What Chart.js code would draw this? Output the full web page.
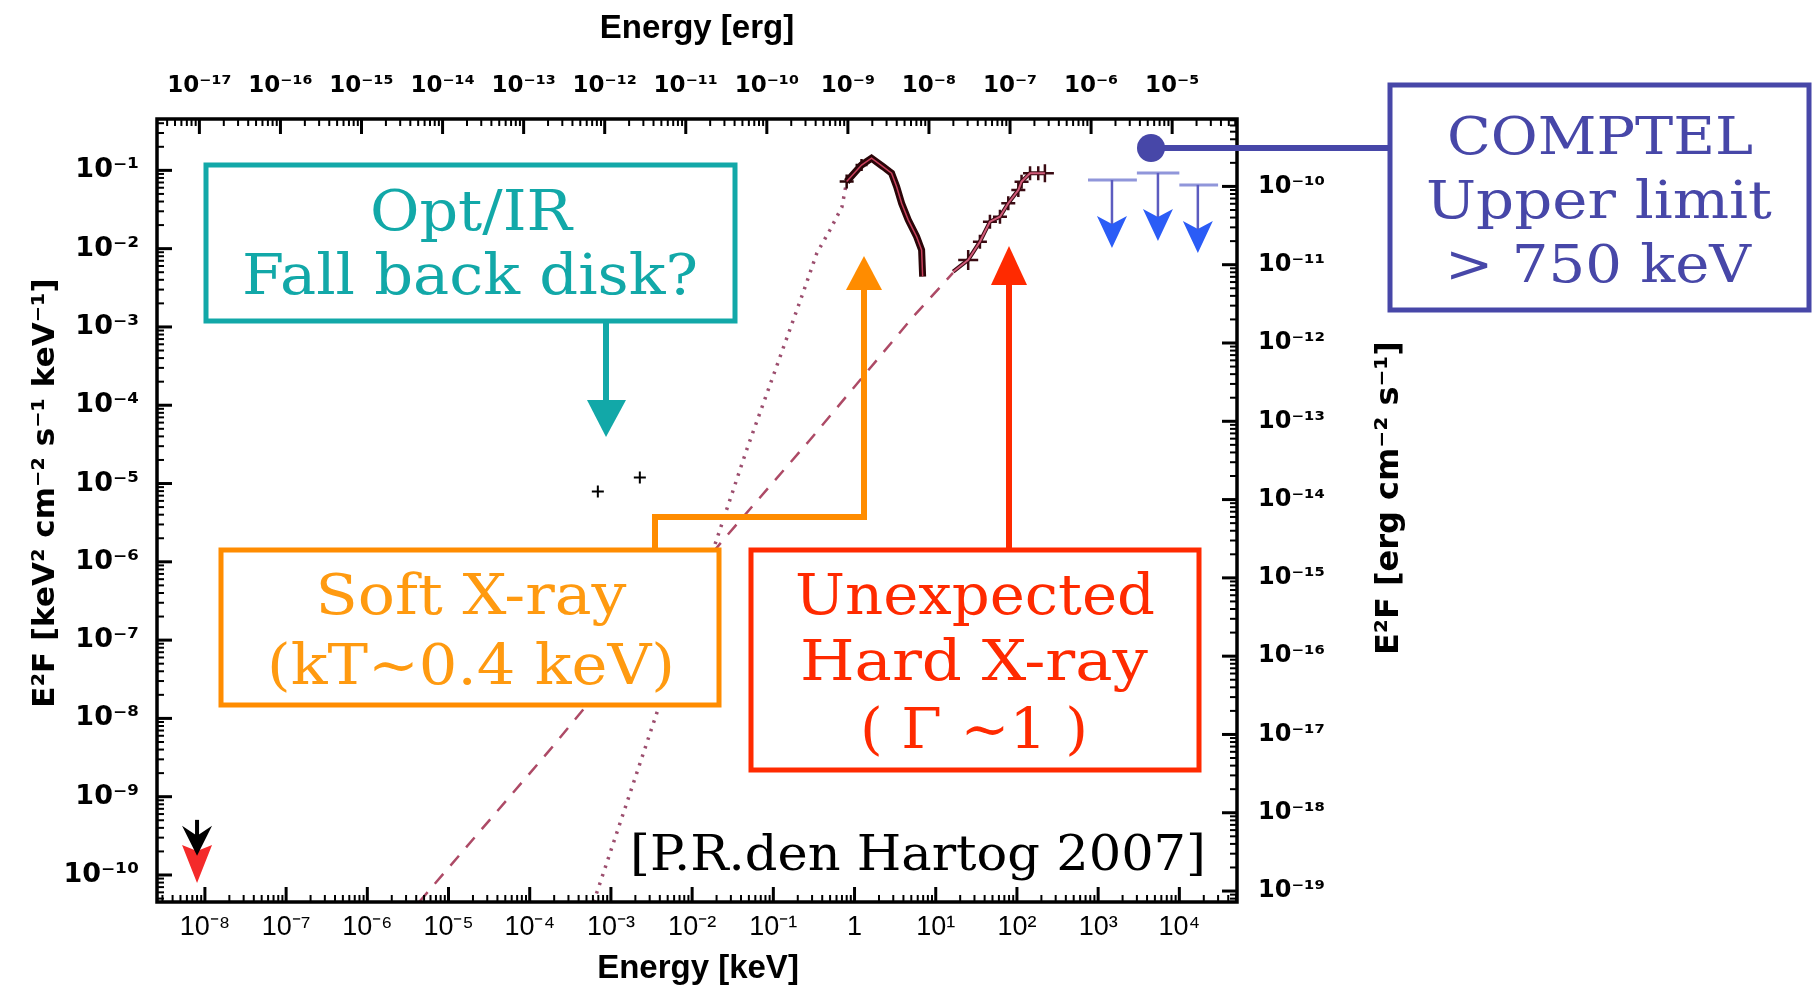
<!DOCTYPE html>
<html>
<head>
<meta charset="utf-8">
<script src="https://cdn.jsdelivr.net/npm/chart.js@4.4.0/dist/chart.umd.min.js"></script>
<style>
  html, body { margin: 0; padding: 0; background: #fff; }
  #wrap { position: relative; width: 1818px; height: 990px; }
  #chart, #notes { position: absolute; left: 0; top: 0; }
  #notes text { font-family: 'DejaVu Serif', serif; }
</style>
</head>
<body>
<div id="wrap">
  <canvas id="chart" width="1818" height="990"></canvas>
  <svg id="notes" width="1818" height="990">
    <!-- Opt/IR -->
    <rect x="206" y="165" width="529" height="156" fill="#fff" stroke="#12a8a8" stroke-width="5"/>
    <text x="471" y="230" fill="#12a8a8" font-size="56" text-anchor="middle" textLength="202" lengthAdjust="spacingAndGlyphs">Opt/IR</text>
    <text x="470" y="294" fill="#12a8a8" font-size="56" text-anchor="middle" textLength="456" lengthAdjust="spacingAndGlyphs">Fall back disk?</text>
    <line x1="606" y1="323" x2="606" y2="404" stroke="#12a8a8" stroke-width="6"/>
    <polygon points="587,400 626,400 606,437" fill="#12a8a8"/>

    <!-- soft X-ray -->
    <polyline points="655,550 655,517 864,517 864,284" fill="none" stroke="#ff8c00" stroke-width="6"/>
    <polygon points="846,290 882,290 864,256" fill="#ff8c00"/>
    <rect x="221" y="550" width="498" height="155" fill="#fff" stroke="#ff8c00" stroke-width="5"/>
    <text x="471" y="614" fill="#ff9a10" font-size="56" text-anchor="middle" textLength="311" lengthAdjust="spacingAndGlyphs">Soft X-ray</text>
    <text x="471" y="684" fill="#ff9a10" font-size="56" text-anchor="middle" textLength="408" lengthAdjust="spacingAndGlyphs">(kT~0.4 keV)</text>

    <!-- hard X-ray -->
    <line x1="1009" y1="550" x2="1009" y2="280" stroke="#ff2a00" stroke-width="6"/>
    <polygon points="991,285 1027,285 1009,246" fill="#ff2a00"/>
    <rect x="751" y="550" width="448" height="220" fill="#fff" stroke="#ff2a00" stroke-width="5"/>
    <text x="975" y="614" fill="#ff2a00" font-size="56" text-anchor="middle" textLength="360" lengthAdjust="spacingAndGlyphs">Unexpected</text>
    <text x="974" y="680" fill="#ff2a00" font-size="56" text-anchor="middle" textLength="348" lengthAdjust="spacingAndGlyphs">Hard X-ray</text>
    <text x="974" y="748" fill="#ff2a00" font-size="56" text-anchor="middle" textLength="228" lengthAdjust="spacingAndGlyphs">( Γ ~1 )</text>

    <!-- COMPTEL -->
    <line x1="1151" y1="148" x2="1392" y2="148" stroke="#4747a8" stroke-width="6"/>
    <circle cx="1151" cy="148" r="14" fill="#4747a8"/>
    <rect x="1390" y="85" width="419" height="225" fill="#fff" stroke="#4747a8" stroke-width="5"/>
    <text x="1600" y="154" fill="#4747a8" font-size="52" text-anchor="middle" textLength="306" lengthAdjust="spacingAndGlyphs">COMPTEL</text>
    <text x="1599" y="218" fill="#4747a8" font-size="52" text-anchor="middle" textLength="346" lengthAdjust="spacingAndGlyphs">Upper limit</text>
    <text x="1598" y="282" fill="#4747a8" font-size="52" text-anchor="middle" textLength="306" lengthAdjust="spacingAndGlyphs">&gt; 750 keV</text>

    <text x="918" y="870" fill="#000" font-size="48" text-anchor="middle" textLength="576" lengthAdjust="spacingAndGlyphs">[P.R.den Hartog 2007]</text>
  </svg>
</div>
<script>
// axis ranges
const xMin = Math.pow(10, -8.59), xMax = Math.pow(10, 4.71);       // keV
const ergMin = Math.pow(10, -17.505), ergMax = Math.pow(10, -4.2); // erg
const yMin = Math.pow(10, -10.345), yMax = Math.pow(10, -0.344);   // keV2 cm-2 s-1 keV-1
const y2Min = Math.pow(10, -19.14), y2Max = Math.pow(10, -9.139);  // erg cm-2 s-1

// optical / IR points
const optE = [6.9e-4, 2.27e-3];
const optF = [7.9e-6, 1.19e-5];

// soft X-ray spectrum
const softE = [0.80, 1.22, 1.62, 2.26, 2.86, 3.30, 3.80, 4.58, 5.82, 6.70, 6.90];
const softF = [0.0718, 0.117, 0.143, 0.111, 0.092, 0.0619, 0.038, 0.0233, 0.0142, 0.0096, 0.0044];

// hard X-ray spectrum
const hardE = [16.4, 25.1, 35.0, 46.5, 61.8, 78.2, 104, 114, 145, 183, 221];
const hardF = [0.00508, 0.00718, 0.01228, 0.0221, 0.0256, 0.038, 0.056, 0.0717, 0.0918, 0.0918, 0.0918];

// blackbody model (dotted)
const bbE = [6.12e-4, 7.33e-4, 3.66e-3, 0.0200, 0.0469, 0.232, 0.344, 0.498, 0.70, 0.80];
const bbF = [4.52e-11, 7.85e-11, 1.16e-8, 1.91e-6, 2.69e-5, 2.72e-3, 8.8e-3, 0.0173, 0.0341, 0.0718];

// power-law model (dashed)
const plE = [4.35e-6, 1.77e-4, 0.0242, 0.282, 5.24, 16.3];
const plF = [4.52e-11, 3.96e-9, 1.91e-6, 3.6e-5, 1.34e-3, 4.9e-3];

// COMPTEL upper limits
const ulLo = [750, 3000, 10000];
const ulHi = [3000, 10000, 30000];
const ulE = [1480, 5450, 16900];
const ulF = [0.0753, 0.0927, 0.0652];

// radio upper limits (far left)
const radioE = [8e-9, 8e-9];
const radioF = [2.42e-10, 5.06e-10];

const pts = (xs, ys) => xs.map((x, i) => ({x: x, y: ys[i]}));

const sup = {'-': '⁻', '0': '⁰', '1': '¹', '2': '²', '3': '³', '4': '⁴', '5': '⁵', '6': '⁶', '7': '⁷', '8': '⁸', '9': '⁹'};
function powLabel(v) {
  const l = Math.log10(v), e = Math.round(l);
  if (Math.abs(l - e) > 1e-6) return '';
  if (e === 0) return '1';
  return '10' + String(e).split('').map(c => sup[c]).join('');
}

const sans = "'Liberation Sans', Arial, sans-serif";
const heavy = "'DejaVu Sans', sans-serif";

function logTicks(ctx, scale, edge, dir, horiz) {
  const lo = Math.floor(Math.log10(scale.min)), hi = Math.ceil(Math.log10(scale.max));
  for (let e = lo; e <= hi; e++) {
    for (let m = 1; m < 10; m++) {
      const v = m * Math.pow(10, e);
      if (v < scale.min || v > scale.max) continue;
      const p = scale.getPixelForValue(v);
      const len = m === 1 ? 15 : 7;
      ctx.lineWidth = m === 1 ? 3 : 2;
      ctx.beginPath();
      if (horiz) { ctx.moveTo(p, edge); ctx.lineTo(p, edge + dir * len); }
      else { ctx.moveTo(edge, p); ctx.lineTo(edge + dir * len, p); }
      ctx.stroke();
    }
  }
}

function arrowHead(ctx, cx, top, w, h, notch, color) {
  ctx.fillStyle = color;
  ctx.beginPath();
  ctx.moveTo(cx - w / 2, top);
  ctx.lineTo(cx, top + notch);
  ctx.lineTo(cx + w / 2, top);
  ctx.lineTo(cx, top + h);
  ctx.closePath();
  ctx.fill();
}

function title(ctx, text, x, y, rot, font) {
  ctx.save();
  ctx.translate(x, y);
  ctx.rotate(rot);
  ctx.font = font;
  ctx.fillStyle = '#000';
  ctx.textAlign = 'center';
  ctx.textBaseline = 'middle';
  ctx.fillText(text, 0, 0);
  ctx.restore();
}

const framePlugin = {
  id: 'frame',
  afterDatasetsDraw(chart) {
    const {ctx, chartArea: a, scales} = chart;
    const x = scales.x, y = scales.y;
    ctx.save();
    // COMPTEL upper limits
    ulE.forEach((e, i) => {
      const py = y.getPixelForValue(ulF[i]);
      const cx = x.getPixelForValue(e);
      ctx.strokeStyle = '#9096da';
      ctx.lineWidth = 3;
      ctx.beginPath();
      ctx.moveTo(x.getPixelForValue(ulLo[i]), py);
      ctx.lineTo(x.getPixelForValue(ulHi[i]), py);
      ctx.stroke();
      ctx.strokeStyle = '#5c5cc0';
      ctx.lineWidth = 2.5;
      ctx.beginPath();
      ctx.moveTo(cx, py);
      ctx.lineTo(cx, py + 50);
      ctx.stroke();
      arrowHead(ctx, cx, py + 36, 30, 32, 8, '#2b5cf6');
    });
    // radio limits: red below, black above
    const rx = x.getPixelForValue(radioE[0]);
    const rRed = y.getPixelForValue(radioF[0]);
    arrowHead(ctx, rx, rRed, 30, 38, 6, '#f42a2a');
    const rBlk = y.getPixelForValue(radioF[1]);
    ctx.strokeStyle = '#000';
    ctx.lineWidth = 4;
    ctx.beginPath();
    ctx.moveTo(rx, rBlk);
    ctx.lineTo(rx, rBlk + 24);
    ctx.stroke();
    arrowHead(ctx, rx, rBlk + 6, 30, 30, 10, '#000');

    // frame and inward ticks
    ctx.strokeStyle = '#000';
    logTicks(ctx, scales.x, a.bottom, -1, true);
    logTicks(ctx, scales.x2, a.top, 1, true);
    logTicks(ctx, scales.y, a.left, 1, false);
    logTicks(ctx, scales.y2, a.right, -1, false);
    ctx.lineWidth = 3.5;
    ctx.strokeRect(a.left, a.top, a.width, a.height);
    ctx.restore();

    // axis titles
    title(ctx, 'Energy [keV]', 698, 969, 0, 'bold 33px ' + sans);
    title(ctx, 'Energy [erg]', 697, 29, 0, 'bold 33px ' + sans);
    title(ctx, 'E²F [keV² cm⁻² s⁻¹ keV⁻¹]', 46, 493, -Math.PI / 2, 'bold 31px ' + heavy);
    title(ctx, 'E²F [erg cm⁻² s⁻¹]', 1390, 498, -Math.PI / 2, 'bold 32px ' + heavy);
  }
};

const tickOpts = (font, pad) => ({
  color: '#000',
  font: font,
  padding: pad,
  autoSkip: false,
  maxRotation: 0,
  minRotation: 0,
  callback: v => powLabel(v)
});
const noGrid = {display: false, drawTicks: false};

new Chart(document.getElementById('chart'), {
  type: 'scatter',
  data: {
    datasets: [
      {
        label: 'Opt/IR',
        data: pts(optE, optF),
        pointStyle: 'cross',
        pointRadius: 6,
        borderColor: '#000',
        borderWidth: 2
      },
      {
        label: 'Soft X-ray model',
        data: pts(softE, softF),
        showLine: true,
        pointRadius: 0,
        borderColor: '#c8405c',
        borderWidth: 1.5
      },
      {
        label: 'Hard X-ray model',
        data: pts(hardE, hardF),
        showLine: true,
        pointRadius: 0,
        borderColor: '#d05a78',
        borderWidth: 2
      },
      {
        label: 'Soft X-ray',
        data: pts(softE, softF),
        showLine: true,
        pointStyle: 'cross',
        pointRadius: [7, 6, 0, 0, 0, 0, 0, 0, 0, 0, 0],
        pointBorderWidth: 2.5,
        borderColor: '#2a0508',
        borderWidth: 7
      },
      {
        label: 'Hard X-ray',
        data: pts(hardE, hardF),
        showLine: true,
        pointStyle: 'cross',
        pointRadius: [0, 10, 7, 7, 7, 7, 7, 7, 7, 7, 9],
        pointBorderWidth: 2.5,
        borderColor: '#3a0a12',
        borderWidth: 4
      },
      {
        label: 'Blackbody',
        data: pts(bbE, bbF),
        showLine: true,
        pointRadius: 0,
        borderColor: '#9c4e6e',
        borderWidth: 3.5,
        borderDash: [2.5, 6.5]
      },
      {
        label: 'Power law',
        data: pts(plE, plF),
        showLine: true,
        pointRadius: 0,
        borderColor: '#ad4a66',
        borderWidth: 2.5,
        borderDash: [13, 11]
      }
    ]
  },
  options: {
    responsive: false,
    animation: false,
    layout: {padding: 0},
    plugins: {legend: {display: false}, tooltip: {enabled: false}},
    scales: {
      x: {
        type: 'logarithmic', position: 'bottom', min: xMin, max: xMax,
        grid: noGrid, border: {display: false},
        ticks: tickOpts({family: sans, size: 27}, 9),
        afterFit: s => { s.height = 88; }
      },
      x2: {
        type: 'logarithmic', position: 'top', min: ergMin, max: ergMax,
        grid: noGrid, border: {display: false},
        ticks: tickOpts({family: heavy, size: 23, weight: 'bold'}, 19),
        afterFit: s => { s.height = 119; }
      },
      y: {
        type: 'logarithmic', position: 'left', min: yMin, max: yMax,
        grid: noGrid, border: {display: false},
        ticks: tickOpts({family: heavy, size: 27, weight: 'bold'}, 18),
        afterFit: s => { s.width = 157; }
      },
      y2: {
        type: 'logarithmic', position: 'right', min: y2Min, max: y2Max,
        grid: noGrid, border: {display: false},
        ticks: tickOpts({family: heavy, size: 24, weight: 'bold'}, 21),
        afterFit: s => { s.width = 581; }
      }
    }
  },
  plugins: [framePlugin]
});
</script>
</body>
</html>
